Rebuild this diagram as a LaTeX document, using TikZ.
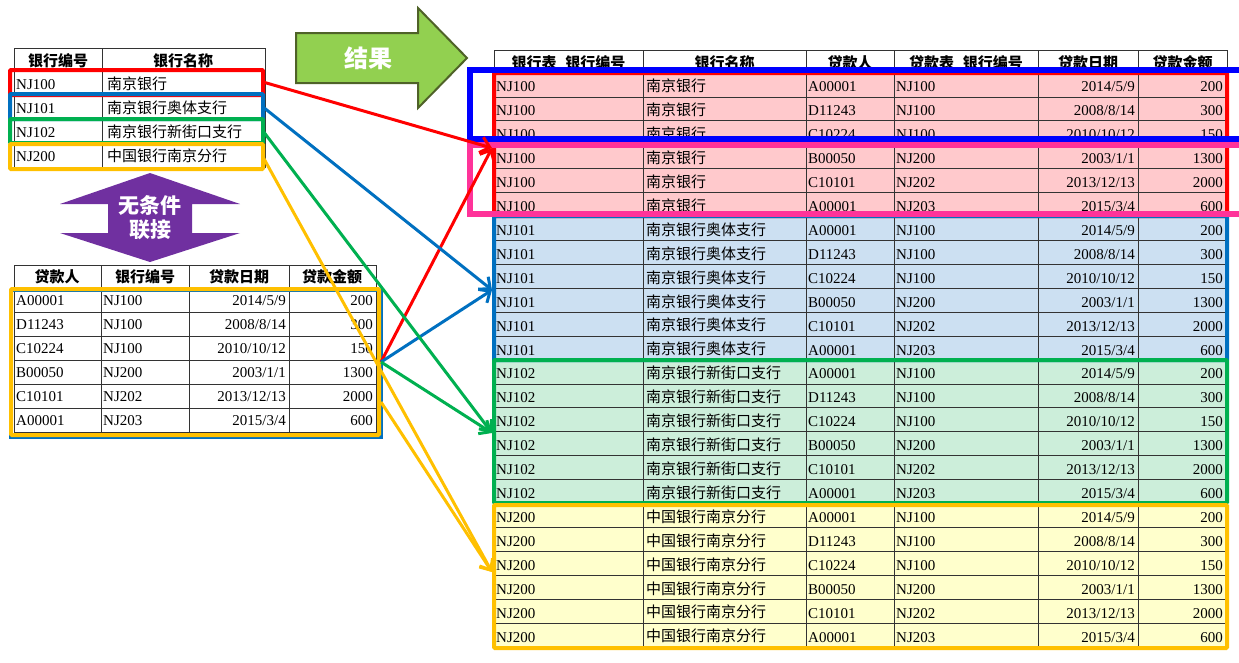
\documentclass[tikz,border=0pt]{standalone}
\usepackage{fontspec}
\setmainfont{Liberation Serif}
\newfontfamily\cjk{Noto Sans CJK SC}
\usetikzlibrary{arrows.meta}
\definecolor{cred}{HTML}{FF0000}
\definecolor{cblue}{HTML}{0070C0}
\definecolor{cgreen}{HTML}{00B050}
\definecolor{cyel}{HTML}{FFC000}
\definecolor{cpink}{HTML}{FF3399}
\definecolor{fpink}{HTML}{FFC9CC}
\definecolor{fblue}{HTML}{CCE0F2}
\definecolor{fgreen}{HTML}{CCEEDA}
\definecolor{fyel}{HTML}{FFFFCC}
\definecolor{cpurple}{HTML}{7030A0}
\definecolor{cgarrow}{HTML}{92D050}
\definecolor{cgedge}{HTML}{4F6228}
\tikzset{
 cell/.style={draw=black!80,line width=0.8pt},
 txt/.style={inner sep=0pt,font=\fontsize{15}{15}\selectfont},
 lt/.style={txt,anchor=west},
 rt/.style={txt,anchor=east},
 hd/.style={txt,font=\fontsize{15}{15}\selectfont\cjk\bfseries},
 frame/.style={line width=4pt,rounded corners=1pt},
 conn/.style={line width=3pt,-{Straight Barb[length=9pt,width=16pt,line width=3pt]}},
}
\begin{document}
\begin{tikzpicture}[x=1pt,y=-1pt]
\useasboundingbox (0,0) rectangle (1239,662);
% ---------- bank table ----------
\draw[cell] (14,48) rectangle (102,71) (102,48) rectangle (265,71);
\node[hd] (bh1) at (58,61) {银行编号};
\node[hd] (bh2) at (183,61) {银行名称};
\foreach \i/\c/\n in {0/NJ100/南京银行,1/NJ101/南京银行奥体支行,2/NJ102/南京银行新街口支行,3/NJ200/中国银行南京分行}{
  \pgfmathsetmacro\yt{71+24*\i}
  \draw[cell] (14,\yt) rectangle (102,\yt+24) (102,\yt) rectangle (265,\yt+24);
  \node[lt] (b\i a) at (16,\yt+14) {\c};
  \node[lt] (b\i b) at (107,\yt+13) {\cjk \n};
}
\draw[frame,cred] (10,70) rectangle (263,95);
\draw[frame,cblue] (10,94) rectangle (263,119);
\draw[frame,cgreen] (10,119) rectangle (263,143);
\draw[frame,cyel] (10,144) rectangle (263,169);
\coordinate (s0) at (263,82);
\coordinate (s1) at (263,107);
\coordinate (s2) at (263,131);
\coordinate (s3) at (263,157);
% ---------- purple double arrow ----------
\fill[cpurple] (150,173) -- (240,204) -- (192,204) -- (192,233) -- (240,233) -- (150,262) -- (60,233) -- (108,233) -- (108,204) -- (60,204) -- cycle;
\node[txt,align=center,text=white,font=\fontsize{21}{24}\selectfont\cjk\bfseries] (join) at (150,218) {无条件\\联接};
% ---------- loan table ----------
\draw[cell] (14,265) rectangle (101,288) (101,265) rectangle (189,288) (189,265) rectangle (289,288) (289,265) rectangle (376,288);
\node[hd] (lh1) at (57,277) {贷款人};
\node[hd] (lh2) at (145,277) {银行编号};
\node[hd] (lh3) at (239,277) {贷款日期};
\node[hd] (lh4) at (332,277) {贷款金额};
\foreach \i/\p/\c/\d/\m in {0/A00001/NJ100/2014\slash 5\slash 9/200,1/D11243/NJ100/2008\slash 8\slash 14/300,2/C10224/NJ100/2010\slash 10\slash 12/150,3/B00050/NJ200/2003\slash 1\slash 1/1300,4/C10101/NJ202/2013\slash 12\slash 13/2000,5/A00001/NJ203/2015\slash 3\slash 4/600}{
  \pgfmathsetmacro\yt{288+24*\i}
  \draw[cell] (14,\yt) rectangle (101,\yt+24) (101,\yt) rectangle (189,\yt+24) (189,\yt) rectangle (289,\yt+24) (289,\yt) rectangle (376,\yt+24);
  \node[lt] (l\i a) at (16,\yt+13) {\p};
  \node[lt] (l\i b) at (103,\yt+13) {\c};
  \node[rt] (l\i c) at (286,\yt+13) {\d};
  \node[rt] (l\i d) at (373,\yt+13) {\m};
}
\draw[line width=3pt,cblue] (10,290) rectangle (381,437);
\draw[frame,cyel] (11,289) rectangle (379,435);
\coordinate (t0) at (381,362);
\coordinate (t1) at (381,402);
% ---------- green result arrow ----------
\draw[fill=cgarrow,draw=cgedge,line width=2pt] (296,33) -- (418,33) -- (418,8) -- (467,58) -- (418,108) -- (418,83) -- (296,83) -- cycle;
\node[txt,text=white,font=\fontsize{24}{24}\selectfont\cjk\bfseries] (res) at (368,58) {结果};
% ---------- result table ----------
\foreach \xa/\xb/\h/\k in {494/643/银行表\_银行编号/1,643/806/银行名称/2,806/894/贷款人/3,894/1038/贷款表\_银行编号/4,1038/1138/贷款日期/5,1138/1227/贷款金额/6}{
  \draw[cell] (\xa,50) rectangle (\xb,73);
  \node[hd] (rh\k) at ({(\xa+\xb)/2},63) {\h};
}
\foreach \g/\bc/\bn/\fc in {0/NJ100/南京银行/fpink,1/NJ101/南京银行奥体支行/fblue,2/NJ102/南京银行新街口支行/fgreen,3/NJ200/中国银行南京分行/fyel}{
 \foreach \i/\p/\c/\d/\m in {0/A00001/NJ100/2014\slash 5\slash 9/200,1/D11243/NJ100/2008\slash 8\slash 14/300,2/C10224/NJ100/2010\slash 10\slash 12/150,3/B00050/NJ200/2003\slash 1\slash 1/1300,4/C10101/NJ202/2013\slash 12\slash 13/2000,5/A00001/NJ203/2015\slash 3\slash 4/600}{
  \pgfmathsetmacro\yt{73+23.92*(6*\g+\i)}
  \foreach \xa/\xb in {494/643,643/806,806/894,894/1038,1038/1138,1138/1227}{
    \draw[cell,fill=\fc] (\xa,\yt) rectangle (\xb,\yt+23.92);
  }
  \node[lt] (r\g\i a) at (496,\yt+14) {\bc};
  \node[lt] (r\g\i b) at (646,\yt+13) {\cjk \bn};
  \node[lt] (r\g\i c) at (808,\yt+14) {\p};
  \node[lt] (r\g\i d) at (896,\yt+14) {\c};
  \node[rt] (r\g\i e) at (1135,\yt+14) {\d};
  \node[rt] (r\g\i f) at (1223,\yt+14) {\m};
 }
}
\draw[frame,cred] (494,73) rectangle (1227,216);
\draw[frame,cblue] (494,216) rectangle (1227,360);
\draw[frame,cgreen] (494,360) rectangle (1227,503);
\draw[frame,cyel] (494,505) rectangle (1227,648);
\draw[line width=6pt,draw=blue] (470,70) rectangle (1250,139);
\draw[line width=6pt,draw=cpink] (470,145) rectangle (1250,214);
\coordinate (e0) at (492,148);
\coordinate (e1) at (492,290);
\coordinate (e2) at (492,433);
\coordinate (e3) at (492,572);
% ---------- connectors ----------
\draw[conn,cred] (s0) -- (e0);
\draw[conn,cred] (t0) -- (e0);
\draw[conn,cblue] (s1) -- (e1);
\draw[conn,cblue] (t0) -- (e1);
\draw[conn,cgreen] (s2) -- (e2);
\draw[conn,cgreen] (t0) -- (e2);
\draw[conn,cyel] (s3) -- (e3);
\draw[conn,cyel] (t1) -- (e3);
\end{tikzpicture}
\end{document}
